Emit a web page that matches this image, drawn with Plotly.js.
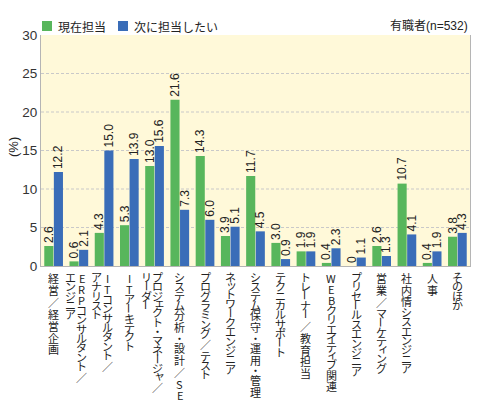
<!DOCTYPE html>
<html>
<head>
<meta charset="utf-8">
<script src="https://cdn.plot.ly/plotly-3.0.1.min.js"></script>
<style>
  html, body { margin: 0; padding: 0; background: #fff; }
  #chart { width: 480px; height: 420px; }
</style>
</head>
<body>
<div id="chart"></div>
<script>
// Job categories; "\n" marks where a vertical label wraps into a second column
const categories = [
  "経営／経営企画",
  "ERPコンサルタント／\nエンジニア",
  "ITコンサルタント／\nアナリスト",
  "ITアーキテクト",
  "プロジェクト・マネージャ／\nリーダー",
  "システム分析・設計／SE",
  "プログラミング／テスト",
  "ネットワークエンジニア",
  "システム保守・運用・管理",
  "テクニカルサポート",
  "トレーナー／教育担当",
  "WEBクリエイティブ関連",
  "プリセールスエンジニア",
  "営業／マーケティング",
  "社内情シスエンジニア",
  "人事",
  "そのほか"
];
const currentRole = [2.6, 0.6, 4.3, 5.3, 13.0, 21.6, 14.3, 3.9, 11.7, 3.0, 1.9, 0.4, 0, 2.6, 10.7, 0.4, 3.8];
const nextRole    = [12.2, 2.1, 15.0, 13.9, 15.6, 7.3, 6.0, 5.1, 4.5, 0.9, 1.9, 2.3, 1.1, 1.3, 4.1, 1.9, 4.3];
const seriesNames = ["現在担当", "次に担当したい"];
const sampleNote = "有職者(n=532)";
const yUnit = "(%)";
const yTicks = [0, 5, 10, 15, 20, 25, 30];

// ---- styling ----
const GREEN = "#58b65c";
const BLUE = "#3a6db8";
const TEXT = "#222";
const LATIN = "Arial, 'Liberation Sans', 'Noto Sans CJK JP', sans-serif";
const CJK = "'Noto Sans CJK JP', sans-serif";
const W = 480, H = 420;
const M = { l: 41, r: 10, t: 35, b: 154, pad: 0 };
const plotW = W - M.l - M.r, plotH = H - M.t - M.b;
const paperX = px => (px - M.l) / plotW;
const paperY = py => (H - M.b - py) / plotH;

const xKeys = categories.map(c => c.replace("\n", ""));
const fmt = v => (v === 0 ? "0" : v.toFixed(1));

const traces = [
  { name: seriesNames[0], data: currentRole, color: GREEN },
  { name: seriesNames[1], data: nextRole, color: BLUE }
].map(s => ({
  type: "bar",
  name: s.name,
  x: xKeys,
  y: s.data,
  marker: { color: s.color },
  text: s.data.map(fmt),
  textposition: "outside",
  textangle: -90,
  constraintext: "none",
  cliponaxis: false,
  textfont: { family: LATIN, size: 12, color: TEXT },
  hoverinfo: "x+y"
}));

// ---- vertical (tategaki) category labels, one glyph per annotation ----
const SMALL = "ッャュョィァェォ";
function advance(ch) {
  if (/[\u4e00-\u9fff]/.test(ch)) return 11.7;
  if (ch === "／") return 13;
  if (ch === "・") return 9;
  if (SMALL.includes(ch)) return 7.5;
  if (/[A-Z]/.test(ch)) return 11;
  return 9.4;
}
const annotations = [];
const COL_GAP = 11;
const COL_SHIFT = -2.5;
categories.forEach((label, i) => {
  const cols = label.split("\n");
  cols.forEach((col, k) => {
    const xs = cols.length > 1 ? ((cols.length - 1) / 2 - k) * COL_GAP + COL_SHIFT : 0;
    let cum = 6;
    for (const ch of col) {
      const a = advance(ch);
      const small = SMALL.includes(ch);
      annotations.push({
        xref: "x", x: i, yref: "y", y: 0,
        xanchor: "center", yanchor: "middle",
        xshift: xs + (small ? 1.5 : 0),
        yshift: -(cum + a / 2) + (small ? 1.5 : 0),
        text: ch,
        textangle: ch === "ー" ? 90 : 0,
        showarrow: false,
        font: { family: CJK, size: 11, color: TEXT }
      });
      cum += a;
    }
  });
});

// legend built from the series colours
const legendItems = [
  { label: seriesNames[0], color: GREEN, sq: 42, tx: 56 },
  { label: seriesNames[1], color: BLUE, sq: 118, tx: 132 }
];
const shapes = [];
legendItems.forEach(it => {
  shapes.push({
    type: "rect", xref: "paper", yref: "paper",
    x0: paperX(it.sq), x1: paperX(it.sq + 10),
    y0: paperY(31), y1: paperY(21),
    fillcolor: it.color, line: { width: 0 }
  });
  annotations.push({
    xref: "paper", yref: "paper", x: paperX(it.tx), y: paperY(26),
    xanchor: "left", yanchor: "middle", showarrow: false,
    text: it.label, font: { family: CJK, size: 12, color: TEXT }
  });
});
annotations.push({
  xref: "paper", yref: "paper", x: 1, y: paperY(26),
  xanchor: "right", yanchor: "middle", showarrow: false,
  text: sampleNote, font: { family: LATIN, size: 12, color: TEXT }
});
annotations.push({
  xref: "paper", yref: "paper", x: paperX(13), y: paperY(147),
  xanchor: "center", yanchor: "middle", showarrow: false, textangle: -90,
  text: yUnit, font: { family: LATIN, size: 13, color: TEXT }
});

// dashed gridlines inside the plot (none on the top edge)
yTicks.filter(v => v > 0 && v < 30).forEach(v => {
  shapes.push({
    type: "line", xref: "paper", x0: 0, x1: 1, yref: "y", y0: v, y1: v,
    line: { color: "#c9c9c9", width: 1, dash: "3px,2px" }, layer: "below"
  });
});

const layout = {
  width: W, height: H,
  margin: M,
  paper_bgcolor: "#fff",
  plot_bgcolor: "#fff9d9",
  showlegend: false,
  barmode: "group",
  bargap: 0.24,
  bargroupgap: 0.05,
  font: { family: LATIN, color: TEXT },
  xaxis: {
    type: "category",
    range: [-0.5, categories.length - 0.5],
    autorange: false,
    showticklabels: false,
    ticks: "",
    showgrid: false,
    showline: true,
    linecolor: "#b5b5b5",
    linewidth: 1,
    zeroline: false
  },
  yaxis: {
    range: [0, 30],
    autorange: false,
    tickvals: yTicks,
    ticktext: yTicks.map(String),
    ticks: "",
    showgrid: false,
    zeroline: false,
    showline: true,
    mirror: true,
    linecolor: "#b5b5b5",
    linewidth: 1,
    tickfont: { family: LATIN, size: 13.5, color: "#333" }
  },
  shapes: shapes,
  annotations: annotations
};

Plotly.newPlot("chart", traces, layout, { displayModeBar: false, staticPlot: true });
</script>
</body>
</html>
